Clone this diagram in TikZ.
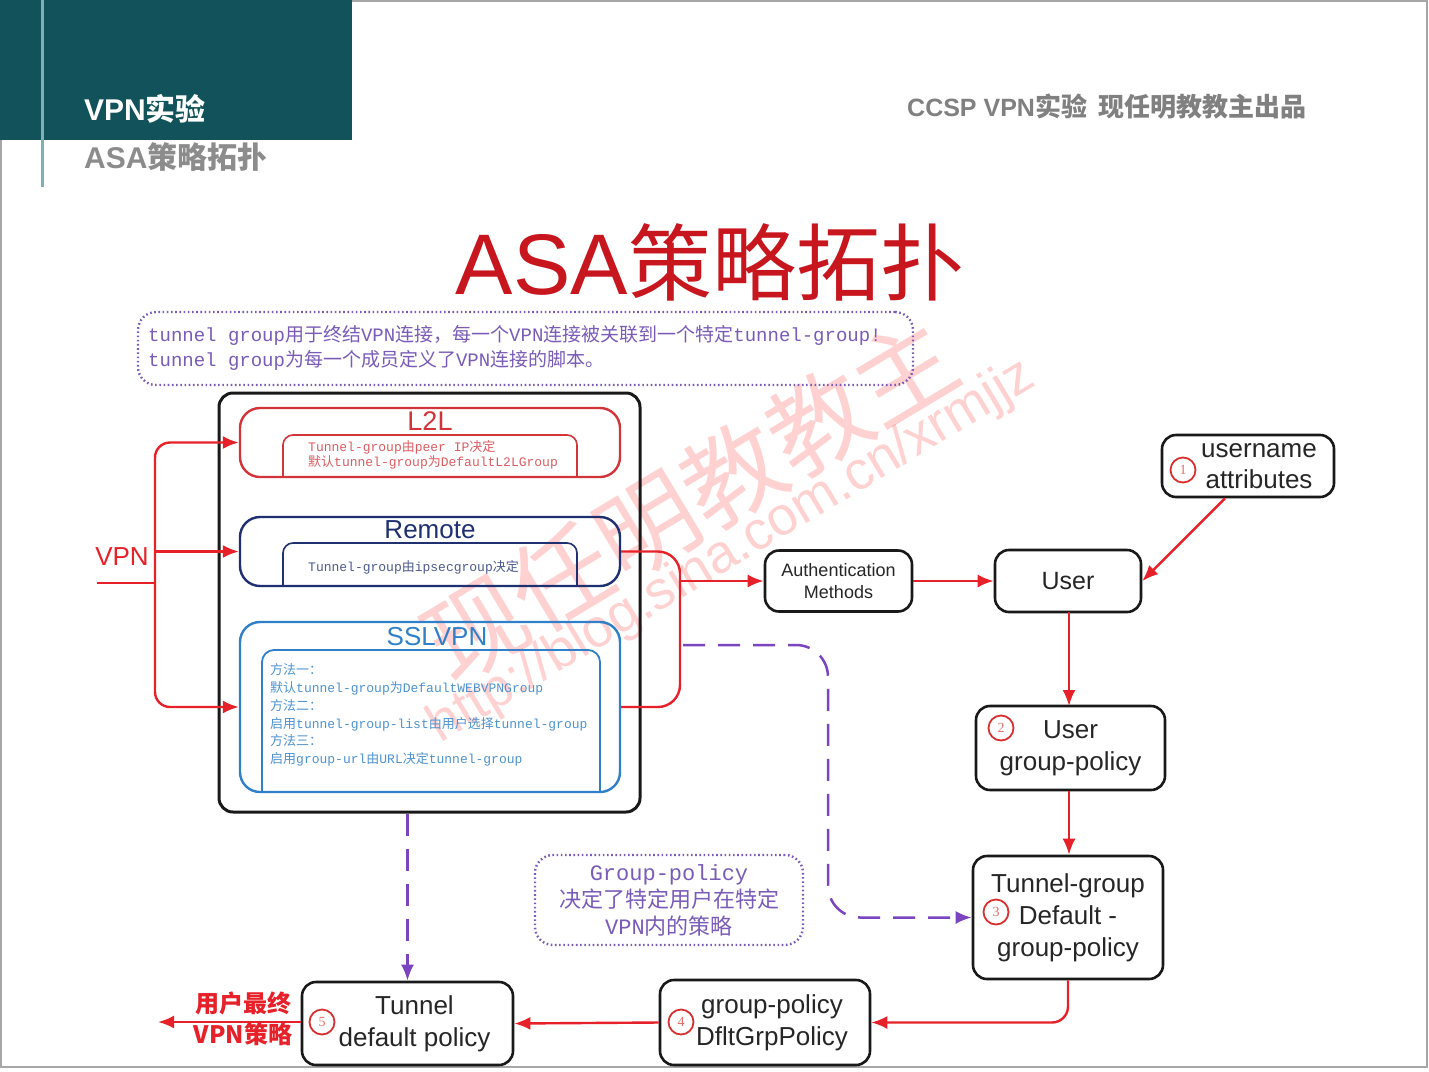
\documentclass[tikz,border=0pt]{standalone}
\usepackage{fontspec}
\setmainfont{Liberation Sans}
\newfontfamily\zh{Noto Sans CJK SC}
\newfontfamily\mo{Liberation Mono}
\newfontfamily\serf{Liberation Serif}
\usetikzlibrary{arrows.meta,calc}
\definecolor{hdrteal}{HTML}{12525A}
\definecolor{vlinec}{HTML}{7FB0B8}
\definecolor{lred}{HTML}{E62129}
\definecolor{tred}{HTML}{C8161E}
\definecolor{l2lc}{HTML}{D2343A}
\definecolor{remc}{HTML}{1F3070}
\definecolor{sslc}{HTML}{2F80C8}
\definecolor{pviolet}{HTML}{7B45C0}
\definecolor{pdotc}{HTML}{7A5CB8}
\definecolor{numred}{HTML}{D83030}
\newcommand\fsz[2]{\fontsize{#1pt}{#2pt}\selectfont}
\begin{document}
\begin{tikzpicture}[x=1pt,y=-1pt,
  redl/.style={draw=lred, line width=2.4pt},
  arr/.style={-{Latex[length=16pt,width=13pt]}},
  bbox/.style={draw=black!90, line width=2.6pt, rounded corners=14pt, align=center, inner sep=0pt, text=black!85},
  num/.style={circle, draw=numred, line width=1.8pt, minimum size=25pt, inner sep=0pt, font=\fsz{14}{14}\serf, text=numred!70},
  pdash/.style={draw=pviolet, line width=2.5pt, dash pattern=on 22pt off 13pt},
  pdot/.style={draw=pdotc, line width=2.4pt, dash pattern=on 1.6pt off 2.6pt, rounded corners=18pt},
  grp/.style={draw, line width=2.4pt, rounded corners=20pt, minimum width=380pt, inner sep=0pt},
]
\useasboundingbox (0,0) rectangle (1429,1071);
\fill[white] (0,0) rectangle (1429,1071);
% watermark
\node[rotate=31, text=red, opacity=0.18, font=\fsz{54}{54}] (wm1) at (732,552) {http://blog.sina.com.cn/xrmjjz};
\node[rotate=31, text=red, opacity=0.18, font=\fsz{100}{100}\zh] (wm2) at (690,500) {现任明教教主};
% frame and header
\draw[gray!70, line width=1.5pt] (1,1) rectangle (1427,1067);
\fill[hdrteal] (0,0) rectangle (352,140);
\draw[vlinec, line width=3pt] (42,0) -- (42,187);
\node[anchor=west, text=white, font=\fsz{30}{30}\bfseries, inner sep=0pt] (h1) at (84,109) {VPN{\zh 实验}};
\node[anchor=west, text=black!45, font=\fsz{30}{30}\bfseries, inner sep=0pt] (h2) at (84,157) {ASA{\zh 策略拓扑}};
\node[anchor=west, text=black!50, font=\fsz{25}{25}\bfseries, inner sep=0pt] (h3) at (907,107) {CCSP VPN{\zh\fsz{26}{26}实验\ \ 现任明教教主出品}};
% big title
\node[text=tred, inner sep=0pt] (title) at (710,262) {\fsz{86}{86}ASA{\zh\fsz{84}{84}策略拓扑}};
% top dotted note
\node[pdot, minimum width=775pt, minimum height=73pt] (note) at (525.5,348.5) {};
\node[anchor=west, align=left, text=pdotc, font=\fsz{19}{25}\zh, inner sep=0pt] (notet) at (148,348) {{\mo tunnel group}用于终结{\mo VPN}连接，每一个{\mo VPN}连接被关联到一个特定{\mo tunnel-group!}\\{\mo tunnel group}为每一个成员定义了{\mo VPN}连接的脚本。};
% ASA big box
\node[bbox, line width=3pt, minimum width=421pt, minimum height=419pt] (asa) at (429.5,602.5) {};
% L2L
\node[grp, draw=l2lc] (l2l) at (430,442.5) [minimum height=69pt] {};
\node[text=l2lc, font=\fsz{27}{27}, inner sep=0pt] (l2lt) at (430,421) {L2L};
\draw[l2lc, line width=1.6pt, rounded corners=10pt] (283,477) |- (577,435) -- (577,477);
\node[anchor=west, align=left, text=l2lc!80, font=\fsz{13}{15}\zh, inner sep=0pt] (l2lx) at (308,455) {{\mo Tunnel-group}由{\mo peer IP}决定\\默认{\mo tunnel-group}为{\mo DefaultL2LGroup}};
% Remote
\node[grp, draw=remc] (rem) at (430,551.5) [minimum height=69pt] {};
\node[text=remc, font=\fsz{26}{26}, inner sep=0pt] (remt) at (430,530) {Remote};
\draw[remc, line width=1.6pt, rounded corners=10pt] (283,586) |- (577,543) -- (577,586);
\node[anchor=west, align=left, text=remc!80, font=\fsz{13}{15}\zh, inner sep=0pt] (remx) at (308,567) {{\mo Tunnel-group}由{\mo ipsecgroup}决定};
% SSLVPN
\node[grp, draw=sslc, minimum height=170pt] (ssl) at (430,707) {};
\node[text=sslc, font=\fsz{26}{26}, inner sep=0pt] (sslt) at (437,637) {SSLVPN};
\draw[sslc, line width=1.8pt, rounded corners=12pt] (262,792) |- (600,650) -- (600,792);
\node[anchor=west, align=left, text=sslc!85, font=\fsz{13}{17.8}\zh, inner sep=0pt] (sslx) at (270,715) {方法一：\\默认{\mo tunnel-group}为{\mo DefaultWEBVPNGroup}\\方法二：\\启用{\mo tunnel-group-list}由用户选择{\mo tunnel-group}\\方法三：\\启用{\mo group-url}由{\mo URL}决定{\mo tunnel-group}};
% VPN input
\node[text=lred, font=\fsz{26}{26}, inner sep=0pt] (vpn) at (122,557) {VPN};
\coordinate (vin) at (97,583);
\coordinate (bus) at (155,583);
\draw[redl] (vin) -- (bus);
\draw[redl, arr, rounded corners=15pt] (bus) |- (l2l.west);
\draw[redl, arr, rounded corners=15pt] (bus) |- (ssl.west);
\draw[redl, arr] (bus |- rem.west) -- (rem.west);
% right side nodes
\node[bbox, minimum width=147pt, minimum height=61pt, font=\fsz{18}{22}] (auth) at (838.5,581) {Authentication\\Methods};
\node[bbox, minimum width=146pt, minimum height=62pt, font=\fsz{25}{25}] (user) at (1068,581) {User};
\node[bbox, minimum width=172pt, minimum height=62pt, font=\fsz{26}{31}] (ua) at (1248,466) {\hspace*{22pt}username\\\hspace*{22pt}attributes};
\node[num] (n1) at (1183,470) {1};
\node[bbox, minimum width=189pt, minimum height=84pt, font=\fsz{26}{32}] (ugp) at (1070.5,748) {User\\group-policy};
\node[num] (n2) at (1001,728) {2};
\node[bbox, minimum width=190pt, minimum height=123pt, font=\fsz{26}{32}] (tg) at (1068,917.5) {Tunnel-group\\Default -\\group-policy};
\node[num] (n3) at (996,912) {3};
\node[bbox, minimum width=210pt, minimum height=85pt, font=\fsz{26}{32}] (gp) at (765,1022.5) {\hspace*{14pt}group-policy\\\hspace*{14pt}DfltGrpPolicy};
\node[num] (n4) at (681,1022) {4};
\node[bbox, minimum width=211pt, minimum height=83pt, font=\fsz{26}{32}] (tdp) at (407.5,1023.5) {\hspace*{14pt}Tunnel\\\hspace*{14pt}default policy};
\node[num] (n5) at (322,1022) {5};
% right bracket and arrows
\draw[redl, rounded corners=22pt] (rem.east) -| (680,620) |- (ssl.east);
\draw[redl, arr] (680,581) -- (auth.west);
\draw[redl, arr] (auth.east) -- (user.west);
\draw[redl, arr] ([xshift=-23pt]ua.south) -- (user.east);
\draw[redl, arr] (1069,612) -- (1069,706);
\draw[redl, arr] (ugp.south -| 1069,0) -- (tg.north -| 1069,0);
\draw[redl, arr, rounded corners=16pt] (tg.south) |- (gp.east);
\draw[redl, arr] (gp.west) -- (tdp.east);
\coordinate (fin) at (158,1022);
\draw[redl, arr] (tdp.west |- fin) -- (fin);
\node[text=lred, font=\fsz{24}{31}\zh\bfseries, align=center, inner sep=0pt] (finl) at (243,1019) {用户最终\\VPN策略};
% purple dashed connectors
\coordinate (ds) at (683,645);
\draw[pdash, arr, rounded corners=32pt] (ds) -| (828,780) |- (tg.west);
\draw[pdash, arr] (tdp.north |- asa.south) -- (tdp.north);
% group-policy note
\node[pdot, minimum width=268pt, minimum height=90pt, align=center, text=pdotc, font=\fsz{22}{27}\zh] (gpn) at (669,900) {{\mo Group-policy}\\决定了特定用户在特定\\{\mo VPN}内的策略};
\end{tikzpicture}
\end{document}
